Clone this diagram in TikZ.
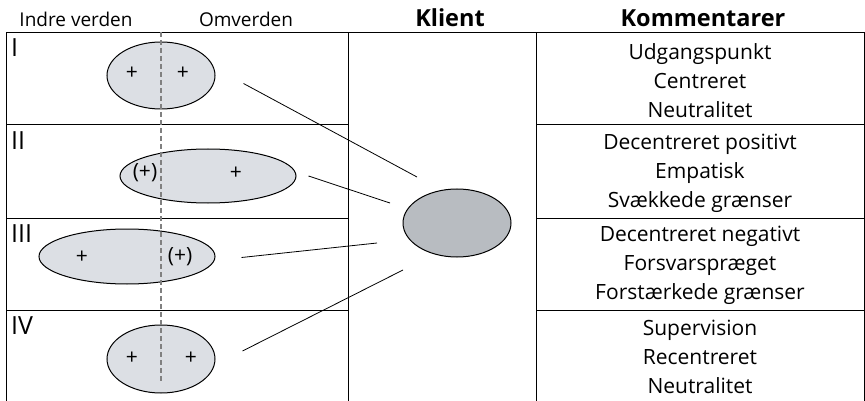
\documentclass[tikz,border=0pt]{standalone}
\usepackage{fontspec}
\setmainfont{Open Sans}
\usetikzlibrary{shapes.geometric}
\definecolor{selfgray}{HTML}{DCDFE4}
\definecolor{clientgray}{HTML}{B8BCC1}

\begin{document}
\begin{tikzpicture}[x=1pt, y=-1pt, font=\fontsize{19}{19}\selectfont,
    grid/.style = {line width=1pt},
    self/.style = {draw, line width=1pt, ellipse, fill=selfgray, inner sep=0pt},
    sign/.style = {inner sep=0pt, font=\fontsize{21}{21}\selectfont},
    link/.style = {line width=0.8pt},
    divide/.style = {gray, line width=1.2pt, dash pattern=on 5pt off 3pt},
    rowlabel/.style = {anchor=north west, inner sep=0pt, font=\fontsize{25}{25}\selectfont},
    head/.style = {anchor=base, inner sep=0pt},
    comment/.style = {align=center, inner sep=0pt, font=\fontsize{21}{29}\selectfont}]
    \useasboundingbox (0,0) rectangle (865,401);

    % headings
    \node[head] (inner) at (76,27) {Indre verden};
    \node[head] (outer) at (246,27) {Omverden};
    \node[head, font=\fontsize{23.5}{23.5}\selectfont\bfseries] (klient) at (450,27) {Klient};
    \node[head, font=\fontsize{23.5}{23.5}\selectfont\bfseries] (komm) at (703,27) {Kommentarer};

    % table
    \draw[grid] (6,401) -- (6,33) -- (864,33) -- (864,401);
    \draw[grid] (348,33) -- (348,401);
    \draw[grid] (536,33) -- (536,401);
    \foreach \y in {125,218,310} {
        \draw[grid] (6,\y) -- (348,\y);
        \draw[grid] (536,\y) -- (864,\y);
    }
    \node[rowlabel] (r1) at (11,38) {I};
    \node[rowlabel] (r2) at (11,131) {II};
    \node[rowlabel] (r3) at (11,224) {III};
    \node[rowlabel] (r4) at (11,316) {IV};

    % selves
    \node[self, minimum width=108, minimum height=67] (e1) at (161,75.5) {};
    \node[self, minimum width=176, minimum height=54] (e2) at (208,176) {};
    \node[self, minimum width=176, minimum height=55] (e3) at (127,256.5) {};
    \node[self, minimum width=108, minimum height=68] (e4) at (161,359) {};
    \draw[divide] (161,32) -- (161,382);
    \node[sign] (p1a) at (132,73) {+};
    \node[sign] (p1b) at (183,73) {+};
    \node[sign] (p2a) at (145,173) {(+)};
    \node[sign] (p2b) at (236,173) {+};
    \node[sign] (p3a) at (82,257) {+};
    \node[sign] (p3b) at (180,257) {(+)};
    \node[sign] (p4a) at (132,358) {+};
    \node[sign] (p4b) at (191,358) {+};

    % client
    \node[self, fill=clientgray, minimum width=108, minimum height=68] (client) at (457,223) {};
    \draw[link] ([shift={(28,8)}]e1.east) -- ([shift={(-40,-46)}]client.center);
    \draw[link] ([shift={(12,0)}]e2.east) -- ([shift={(-67,-20)}]client.center);
    \draw[link] ([shift={(26,1)}]e3.east) -- ([shift={(-80,20)}]client.center);
    \draw[link] ([shift={(27,-8)}]e4.east) -- ([shift={(-54,47)}]client.center);

    % comments
    \node[comment] (c1) at (700,81) {Udgangspunkt\\Centreret\\Neutralitet};
    \node[comment] (c2) at (700,173) {Decentreret positivt\\Empatisk\\Svækkede grænser};
    \node[comment] (c3) at (700,265) {Decentreret negativt\\Forsvarspræget\\Forstærkede grænser};
    \node[comment] (c4) at (700,357) {Supervision\\Recentreret\\Neutralitet};
\end{tikzpicture}
\end{document}
